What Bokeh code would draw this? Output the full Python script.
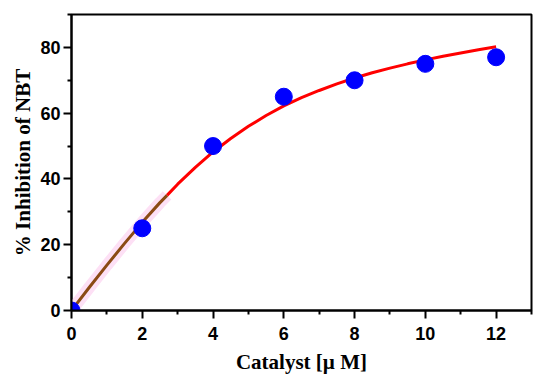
from bokeh.plotting import figure
from bokeh.models import Range1d, FixedTicker
from bokeh.embed import file_html
from bokeh.resources import INLINE

# measured points
conc = [0, 2, 4, 6, 8, 10, 12]
inhibition = [0, 25, 50, 65, 70, 75, 77]

# fitted curve
curve_x = [0, 0.5, 1, 1.5, 2, 2.5, 2.7, 3, 3.5, 4, 4.5, 5, 5.5, 6, 6.5, 7, 7.5, 8,
           8.5, 9, 9.5, 10, 10.5, 11, 11.5, 12]
curve_y = [0, 7.0, 13.8, 20.4, 26.8, 32.8, 35.0, 38.4, 43.5, 48.2, 52.3, 56.0, 59.3, 62.2,
           64.7, 66.9, 68.9, 70.7, 72.3, 73.7, 75.0, 76.2, 77.3, 78.3, 79.3, 80.2]
brown_end = 2.7

x_major = [0, 2, 4, 6, 8, 10, 12]
x_minor = [1, 3, 5, 7, 9, 11, 13]
y_major = [0, 20, 40, 60, 80]
y_minor = [10, 30, 50, 70, 90]

p = figure(width=550, height=381, output_backend="svg", toolbar_location=None,
           x_range=Range1d(0, 13), y_range=Range1d(0, 90),
           min_border_left=71, min_border_right=19, min_border_top=14, min_border_bottom=71)
p.grid.visible = False
p.outline_line_color = "black"
p.outline_line_width = 2
p.background_fill_color = "white"
p.border_fill_color = "white"

k = curve_x.index(brown_end)
bx, by = curve_x[:k + 1], curve_y[:k + 1]
rx, ry = curve_x[k:], curve_y[k:]

p.line(bx, by, line_color="#fde0f5", line_width=12)
p.line(rx, ry, line_color="#ff0000", line_width=3)
p.line(bx, by, line_color="#8b4a14", line_width=3)
p.scatter(conc, inhibition, size=17, fill_color="#0000ff", line_color="#0000ff")

p.xaxis.ticker = FixedTicker(ticks=x_major, minor_ticks=x_minor)
p.yaxis.ticker = FixedTicker(ticks=y_major, minor_ticks=y_minor)

for ax in (p.xaxis[0], p.yaxis[0]):
    ax.axis_line_width = 2
    ax.major_tick_line_width = 2
    ax.minor_tick_line_width = 2
    ax.major_tick_out = 8
    ax.major_tick_in = 0
    ax.minor_tick_out = 4
    ax.minor_tick_in = 0
    ax.major_label_text_font = "Liberation Sans"
    ax.major_label_text_font_style = "bold"
    ax.major_label_text_font_size = "18px"
    ax.major_label_text_color = "black"
    ax.axis_label_text_font = "Liberation Serif"
    ax.axis_label_text_font_style = "bold"
    ax.axis_label_text_font_size = "21px"
    ax.axis_label_text_color = "black"

p.xaxis.axis_label = "Catalyst [µ M]"
p.yaxis.axis_label = "% Inhibition of NBT"
p.xaxis.major_label_standoff = 8
p.yaxis.major_label_standoff = 3
p.xaxis.axis_label_standoff = 7
p.yaxis.axis_label_standoff = 2

open("out.html", "w").write(file_html(p, INLINE))
